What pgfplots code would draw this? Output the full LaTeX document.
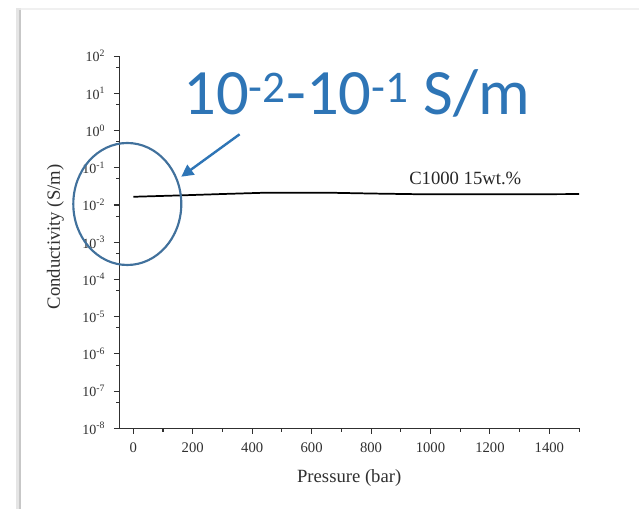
\documentclass[border=0pt]{standalone}
\usepackage{pgfplots}
\pgfplotsset{compat=1.18}
\usepackage{fontspec}
\setmainfont{Liberation Serif}
\newfontfamily\calibri{Carlito}
\usetikzlibrary{arrows.meta}
\definecolor{callout}{HTML}{2E75B6}
\definecolor{ringblue}{HTML}{41719C}
\definecolor{axisgray}{HTML}{303030}

\pgfplotstableread{
p cond
0 0.0166
150 0.0180
300 0.0197
450 0.0214
650 0.0214
800 0.0203
950 0.0195
1200 0.0194
1500 0.0196
}\sample

\begin{document}
\begin{tikzpicture}
% page in pixels of the reference, y downwards
\begin{scope}[x=0.75pt, y=-0.75pt, shift={(0,381.75pt)}]
  \useasboundingbox (0,0) rectangle (639,509);
  \fill[white] (0,0) rectangle (639,509);
  \fill[black!6] (16,8) rectangle (639,10);
  \fill[black!10] (16,8) rectangle (21,509);
  \fill[black!22] (19,10) rectangle (21,509);
\end{scope}

\begin{axis}[
  at={(89.5pt,60.5pt)}, anchor=south west,
  scale only axis,
  width=344.8pt, height=279.2pt,
  xmin=-47, xmax=1500,
  ymode=log, ymin=1e-8, ymax=1e2,
  axis x line=bottom, axis y line=left,
  axis line style={-, axisgray, line width=0.8pt},
  tick style={axisgray, line width=0.8pt},
  tick align=outside,
  major tick length=4pt, minor tick length=2.5pt,
  xtick={0,200,...,1400},
  minor xtick={100,300,...,1500},
  ytick={1e-8,1e-7,1e-6,1e-5,1e-4,1e-3,1e-2,1e-1,1,1e1,1e2},
  yticklabels={10\textsuperscript{-8},10\textsuperscript{-7},10\textsuperscript{-6},10\textsuperscript{-5},10\textsuperscript{-4},10\textsuperscript{-3},10\textsuperscript{-2},10\textsuperscript{-1},10\textsuperscript{0},10\textsuperscript{1},10\textsuperscript{2}},
  minor ytick={5e-8,5e-7,5e-6,5e-5,5e-4,5e-3,5e-2,5e-1,5,5e1},
  xticklabel style={font=\fontsize{11}{12}\selectfont, text=axisgray, yshift=-3pt},
  yticklabel style={font=\fontsize{10.5}{12}\selectfont, text=axisgray, xshift=-3pt},
  /pgf/number format/assume math mode=true,
  /pgf/number format/1000 sep={},
  xlabel={Pressure (bar)},
  ylabel={Conductivity (S/m)},
  label style={font=\fontsize{14}{16}\selectfont, text=axisgray},
  xlabel style={yshift=-6pt},
  ylabel style={yshift=7pt, xshift=4pt},
  clip=false,
]
\addplot[black, line width=1.3pt] table[x=p, y=cond] {\sample};
\node[anchor=base, font=\fontsize{14}{16}\selectfont, text=black!85]
  at (axis cs:1117,0.0344) {C1000 15wt.\%};
\end{axis}

\begin{scope}[x=0.75pt, y=-0.75pt, shift={(0,381.75pt)}]
  \draw[ringblue, line width=1.6pt] (127.3,204) ellipse [x radius=54, y radius=61];
  \draw[callout, line width=1.8pt, -{Triangle[length=9pt, width=9pt]}]
    (239.6,134.3) -- (181.3,176.7);
  \node[anchor=base west, inner sep=0pt, text=callout,
        font=\calibri\fontsize{48.5}{52}\selectfont]
    at (183,115) {10\textsuperscript{-2}-10\textsuperscript{-1} S/m};
\end{scope}
\end{tikzpicture}
\end{document}
